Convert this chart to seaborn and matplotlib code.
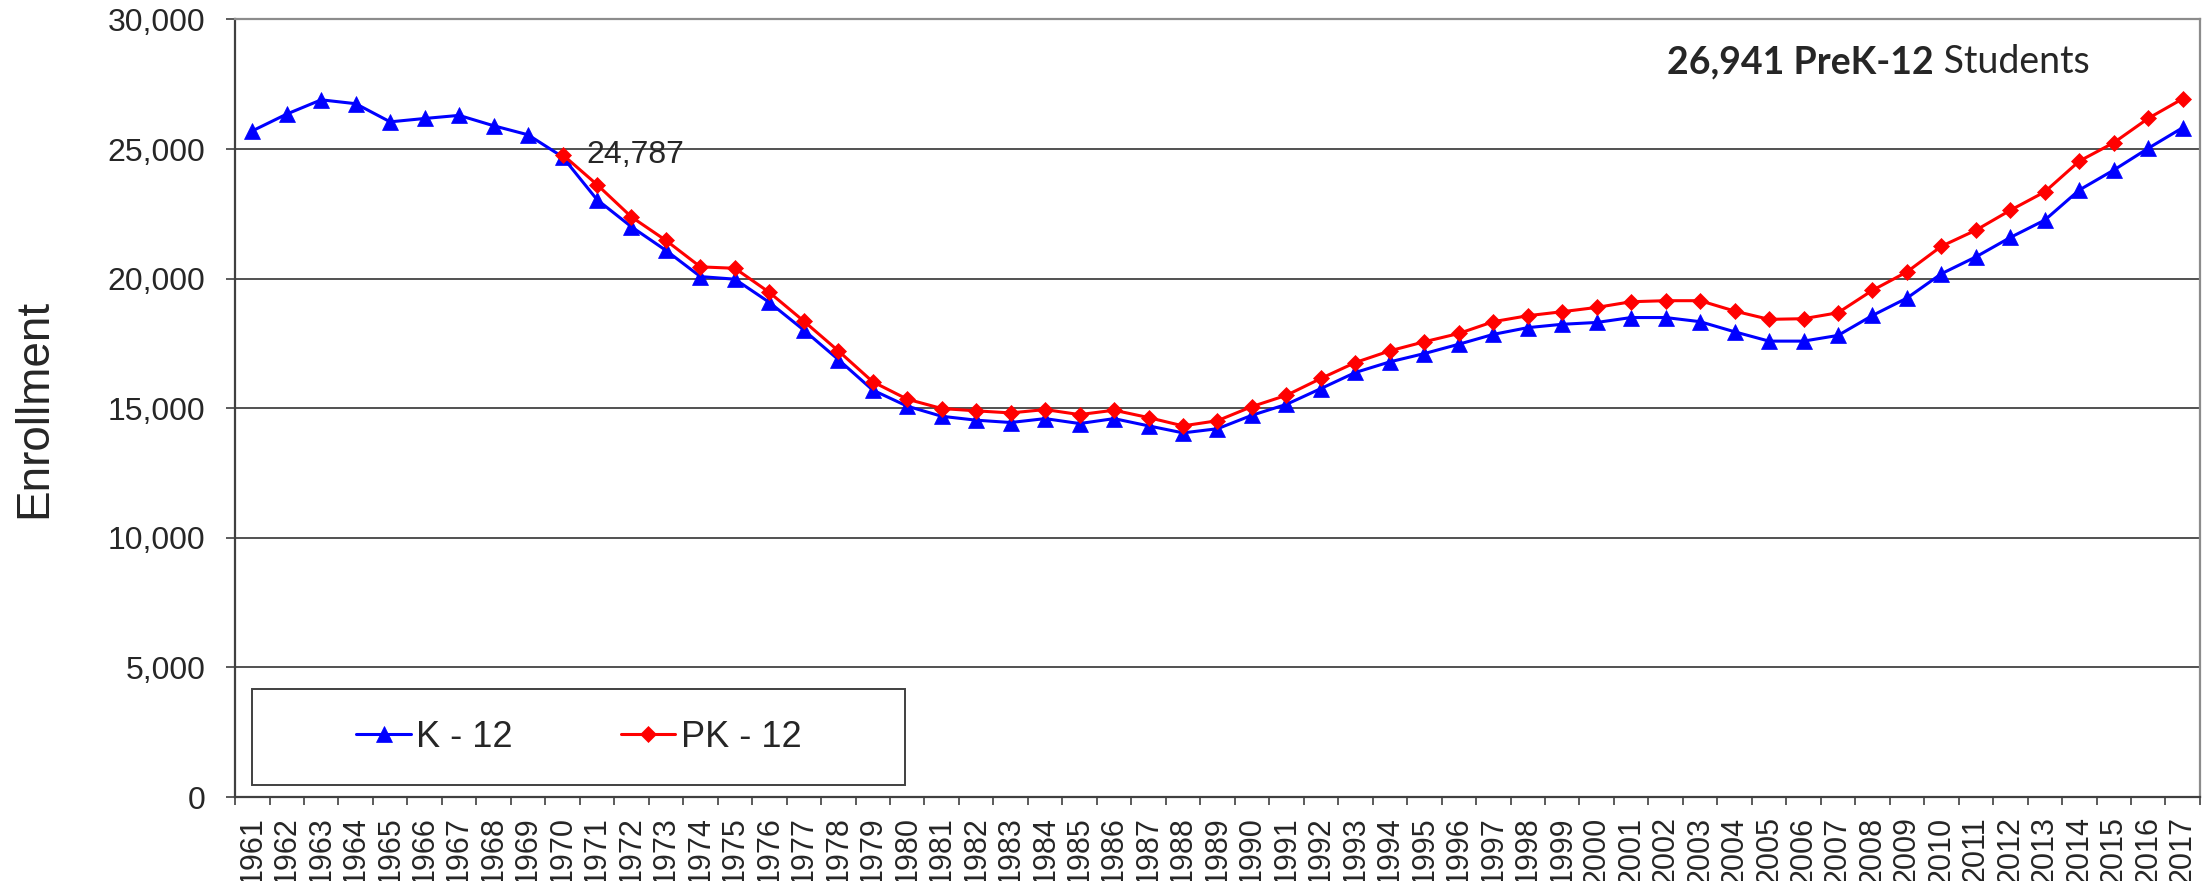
import matplotlib
matplotlib.use("Agg")
import matplotlib.pyplot as plt
import seaborn as sns
import pandas as pd
from matplotlib.patches import Rectangle

# enrollment values
years = list(range(1961, 2018))
k12 = [25700, 26350, 26900, 26750, 26050, 26180, 26300, 25900, 25550, 24700,
       23050, 22000, 21090, 20080, 19980, 19085, 18015, 16880, 15700, 15080,
       14690, 14540, 14450, 14600, 14410, 14600, 14320, 14050, 14210, 14730,
       15150, 15760, 16380, 16790, 17110, 17470, 17850, 18110, 18240, 18310,
       18500, 18500, 18340, 17950, 17590, 17590, 17810, 18580, 19250, 20190,
       20840, 21590, 22260, 23420, 24190, 25030, 25825]
pk_years = list(range(1970, 2018))
pk12 = [24787, 23630, 22380, 21475, 20455, 20400, 19470, 18360, 17215, 16020,
        15350, 14990, 14900, 14820, 14950, 14755, 14925, 14640, 14320, 14520,
        15065, 15500, 16150, 16765, 17215, 17565, 17885, 18340, 18570, 18725,
        18890, 19110, 19150, 19150, 18750, 18430, 18455, 18685, 19550, 20260,
        21250, 21870, 22640, 23350, 24535, 25245, 26185, 26941]
y_ticks = [0, 5000, 10000, 15000, 20000, 25000, 30000]

df_k = pd.DataFrame({"Year": years, "Enrollment": k12})
df_pk = pd.DataFrame({"Year": pk_years, "Enrollment": pk12})

sns.set_style("white")
plt.rcParams['font.family'] = ['Liberation Sans', 'DejaVu Sans']

fig = plt.figure(figsize=(22.11, 8.81), dpi=100)
ax = fig.add_axes([0.1063, 0.0953, 0.8887, 0.8826])

sns.lineplot(data=df_k, x="Year", y="Enrollment", ax=ax, color="#0000ff",
             lw=2.2, marker="^", markersize=12, markeredgecolor="#0000ff",
             markeredgewidth=0.5, label="K - 12", zorder=3)
sns.lineplot(data=df_pk, x="Year", y="Enrollment", ax=ax, color="#ff0000",
             lw=2.2, marker="D", markersize=8.5, markeredgecolor="#ff0000",
             markeredgewidth=0.5, label="PK - 12", zorder=4)

# axes, ticks, grid
ax.set_xlim(years[0] - 0.5, years[-1] + 0.5)
ax.set_ylim(0, 30000)
ax.set_yticks(y_ticks)
ax.set_yticklabels([f"{v:,}" for v in y_ticks], fontsize=23)
ax.set_xticks(years)
ax.set_xticklabels([str(y) for y in years], rotation=90, fontsize=22)
ax.set_xticks([y - 0.5 for y in years] + [years[-1] + 0.5], minor=True)
ax.tick_params(axis="x", which="major", length=0, pad=14)
ax.tick_params(axis="x", which="minor", length=6, width=1.2, color="#404040",
               direction="out", bottom=True)
ax.tick_params(axis="y", length=6.5, width=1.2, color="#404040",
               direction="out", left=True, pad=15)
ax.yaxis.grid(True, color="#333333", lw=1.2)
ax.xaxis.grid(False)
ax.set_axisbelow(True)

for side in ["left", "bottom"]:
    ax.spines[side].set_color("#404040")
    ax.spines[side].set_linewidth(1.6)
for side in ["top", "right"]:
    ax.spines[side].set_color("#8c8c8c")
    ax.spines[side].set_linewidth(1.6)

ax.set_xlabel("")
ax.set_ylabel("Enrollment", fontsize=33, va="center")
ax.yaxis.set_label_coords(-0.1023, 0.5)

# label on the first PK-12 point
ax.annotate(f"{pk12[0]:,}", xy=(pk_years[0], pk12[0]), xytext=(17, 0),
            textcoords="offset points", fontsize=23, va="center", ha="left")

# headline in upper right
students = ax.text(0.944, 0.9312, " Students", transform=ax.transAxes,
                   fontsize=27, family="Lato", ha="right", va="baseline")
ax.annotate(f"{pk12[-1]:,} PreK-12", xy=(0, 0), xycoords=students,
            fontsize=27, family="Lato", fontweight="bold",
            ha="right", va="bottom")

# legend with its box
ax.add_patch(Rectangle((0.00865, 0.0154), 0.3324, 0.1235, transform=ax.transAxes,
                       fill=True, facecolor="white", edgecolor="#404040",
                       lw=1.4, zorder=5))
leg = ax.legend(loc="center", bbox_to_anchor=(0.175, 0.077), ncol=2,
                frameon=False, fontsize=26, handlelength=1.5,
                handletextpad=0.15, columnspacing=3.0)
leg.set_zorder(6)

fig.savefig("out.png", dpi=100)
